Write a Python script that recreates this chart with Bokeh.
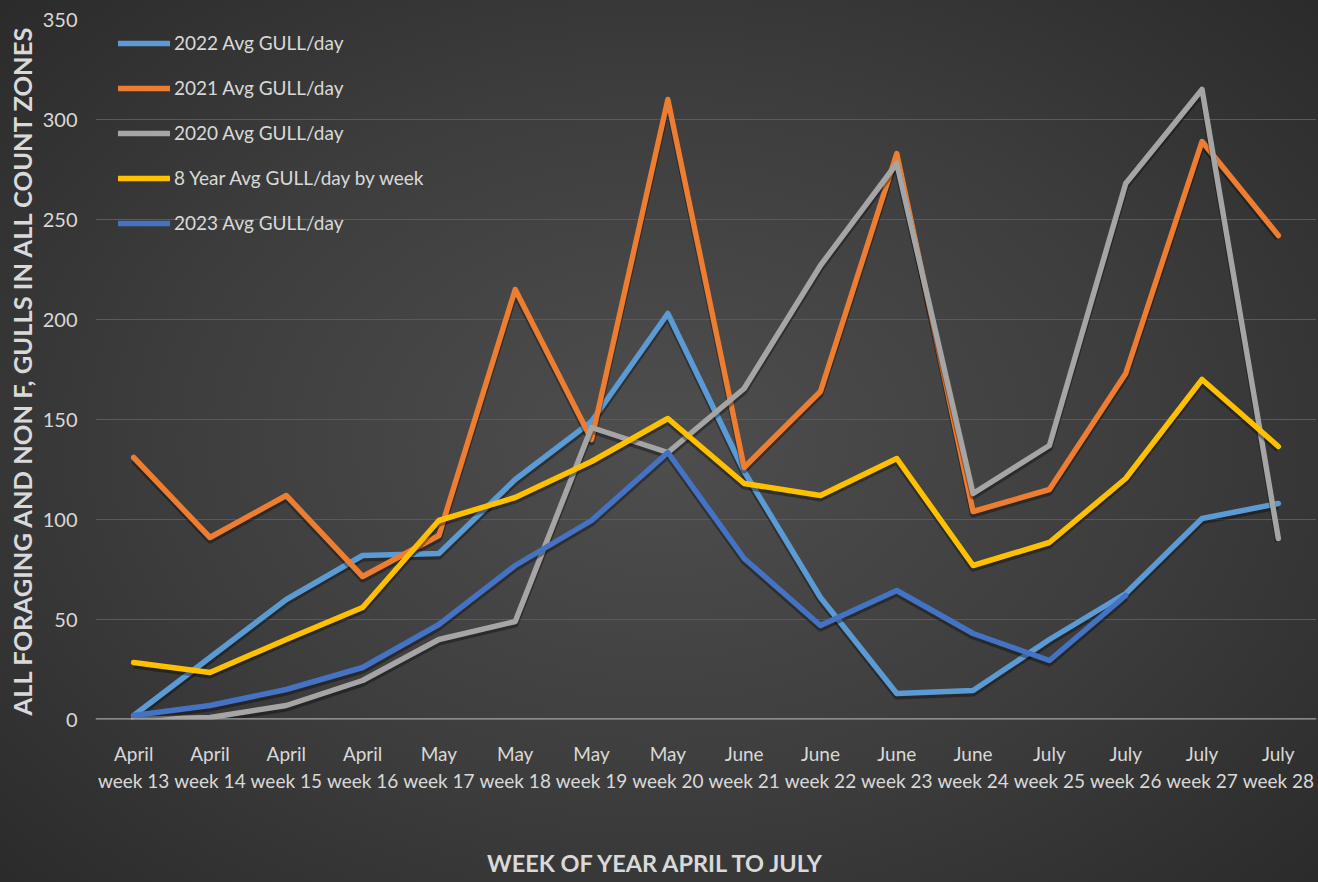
from bokeh.plotting import figure
from bokeh.layouts import column
from bokeh.models import (FactorRange, Range1d, FixedTicker, Legend, LegendItem, Span,
                          GlobalInlineStyleSheet, Div)
from bokeh.transform import dodge
from bokeh.embed import file_html
from bokeh.resources import INLINE

months = ["April", "April", "April", "April", "May", "May", "May", "May",
          "June", "June", "June", "June", "July", "July", "July", "July"]
weeks = [13, 14, 15, 16, 17, 18, 19, 20, 21, 22, 23, 24, 25, 26, 27, 28]
categories = [f"{m}\nweek {w}" for m, w in zip(months, weeks)]

avg_2022 = [2, 31, 60, 82, 83, 120, 149, 203, 124, 61, 13, 14.5, 40, 63, 100.5, 108]
avg_2021 = [131, 91, 112, 71.5, 92, 215, 140, 310, 126, 164, 283, 104, 115, 173, 289, 242]
avg_2020 = [0, 1, 7, 19.5, 40, 49, 146, 133.5, 165.5, 227, 278, 113, 137, 268, 315, 90.5]
avg_8yr = [28.5, 23.5, 40, 56, 99.5, 111, 129, 150.5, 118, 112, 130.5, 77, 88.5, 120.5, 170, 136.5]
avg_2023 = [2, 7, 15, 26, 47.5, 77, 99.5, 133.5, 80.5, 47, 64.5, 43, 29.5, 62]

series = [
    ("2022 Avg GULL/day", avg_2022, "#5B9BD5"),
    ("2021 Avg GULL/day", avg_2021, "#ED7D31"),
    ("2020 Avg GULL/day", avg_2020, "#A5A5A5"),
    ("8 Year Avg GULL/day by week", avg_8yr, "#FFC000"),
    ("2023 Avg GULL/day", avg_2023, "#4472C4"),
]

y_ticks = [0, 50, 100, 150, 200, 250, 300, 350]
x_title = "WEEK OF YEAR APRIL TO JULY"
y_title = "ALL FORAGING AND NON F, GULLS IN ALL COUNT ZONES"

FONT = "Lato"
TXT = "#d9d9d9"

p = figure(width=1318, height=844, x_range=FactorRange(*categories, range_padding=0),
           y_range=Range1d(0, 350), output_backend="svg", toolbar_location=None,
           min_border_left=95, min_border_right=2, min_border_top=19, min_border_bottom=125)

p.stylesheets = [GlobalInlineStyleSheet(css=(
    "html { height: 100%; margin: 0; padding: 0; background: radial-gradient(ellipse 75% 80% at 50% 50%, "
    "#4e4e4e 0%, #3d3d3d 50%, #272727 100%); }"
    "body { background: transparent; margin: 0; padding: 0; }"))]

p.background_fill_color = None
p.border_fill_color = None
p.outline_line_color = None

p.xgrid.grid_line_color = None
p.ygrid.grid_line_color = "#5a5a5a"
p.ygrid.grid_line_width = 1
p.yaxis.ticker = FixedTicker(ticks=y_ticks)

for ax in (p.xaxis[0], p.yaxis[0]):
    ax.axis_line_color = None
    ax.major_tick_line_color = None
    ax.minor_tick_line_color = None
    ax.major_label_text_font = FONT
    ax.major_label_text_font_size = "19px"
    ax.major_label_text_color = TXT
    ax.axis_label_text_color = TXT
    ax.axis_label_text_font_style = "bold"

p.yaxis.major_label_text_font_size = "20px"
p.yaxis.major_label_standoff = 12
p.yaxis.axis_label = y_title
p.yaxis.axis_label_text_font = FONT
p.yaxis.axis_label_text_font_size = "25.5px"
p.yaxis.axis_label_standoff = 3

p.xaxis.major_label_standoff = 16

p.add_layout(Span(location=0, dimension="width", line_color="#a6a6a6", line_width=2.5))

items = []
for label, vals, color in series:
    xs = categories[:len(vals)]
    src = {"x": xs, "y": vals}
    p.line(x="x", y=dodge("y", -1.4), source=src, line_color="black", line_alpha=0.35,
           line_width=6.5, line_join="round")
    r = p.line(x="x", y="y", source=src, line_color=color, line_width=5.5, line_join="round",
               line_cap="round")
    items.append(LegendItem(label=label, renderers=[r]))

legend = Legend(items=items, location=(23, 485), padding=0, spacing=22,
                glyph_width=52, glyph_height=20, label_height=20, label_standoff=4,
                background_fill_alpha=0, border_line_alpha=0,
                label_text_font=FONT, label_text_font_size="19px", label_text_color=TXT)
p.add_layout(legend)

# x axis title under the chart, offset to the left like the original
title_div = Div(
    text=('<div style="margin-left:482px; font-family:Lato; font-weight:bold; '
          'font-size:23.5px; line-height:28px; color:#d9d9d9; white-space:nowrap;">'
          f'{x_title}</div>'),
    width=1318, height=38)

layout = column(p, title_div, spacing=0)

open("out.html", "w").write(file_html(layout, INLINE))
